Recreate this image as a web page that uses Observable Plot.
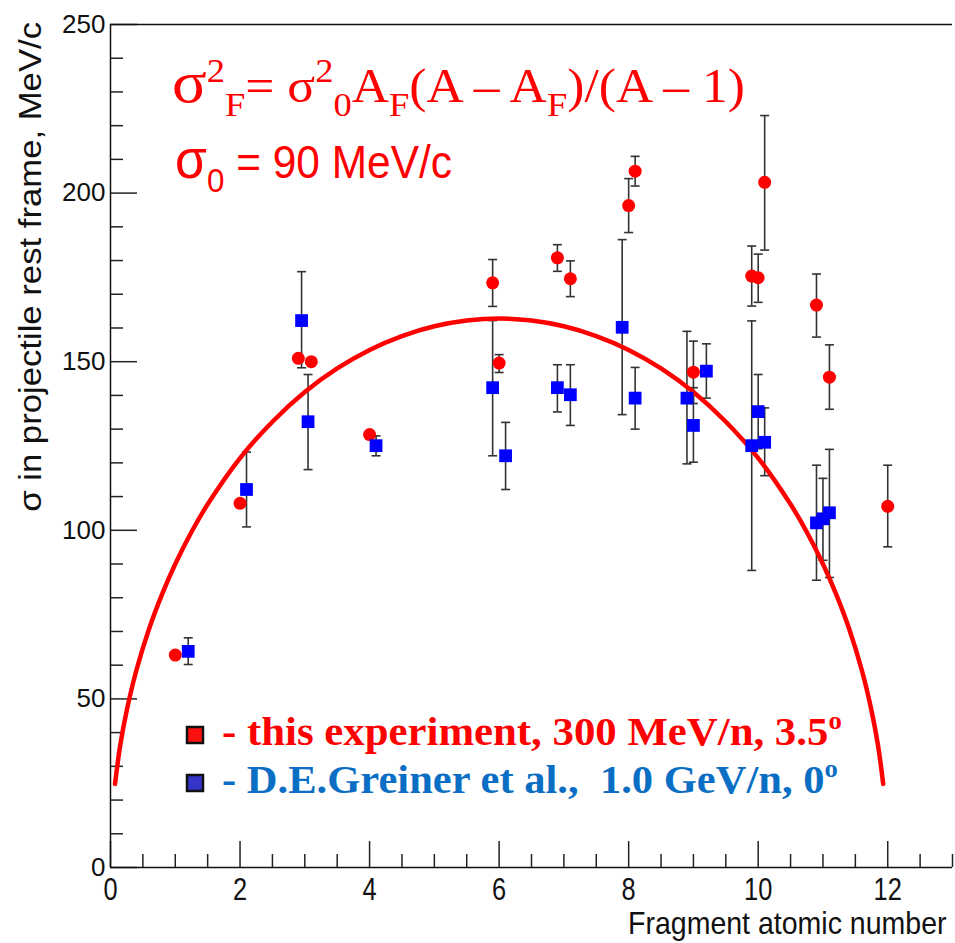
<!DOCTYPE html>
<html><head><meta charset="utf-8">
<script src="https://cdn.jsdelivr.net/npm/d3@7"></script>
<script src="https://cdn.jsdelivr.net/npm/@observablehq/plot@0.6"></script>
<style>body{margin:0;background:#fff;overflow:hidden}</style>
</head><body><div id="chart"></div>
<script>
// ---- data: this experiment (red circles) ----
const redX  = [1.0, 2.0, 2.9, 3.1, 4.0, 5.9, 6.0, 6.9, 7.1, 8.0, 8.1, 9.0, 9.9, 10.0, 10.1, 10.9, 11.1, 12.0];
const redY  = [63, 108, 151, 150, 128.4, 173.4, 149.6, 180.8, 174.6, 196.3, 206.5, 146.9, 175.4, 174.9, 203.2, 166.8, 145.4, 107.1];
const redLo = [null, null, null, null, null, 166.4, 146.8, 176.8, 169.3, 188.3, 202.1, 137.6, 166.5, 167.6, 183.1, 157.3, 135.9, 95.1];
const redHi = [null, null, null, null, null, 180.3, 152.1, 184.7, 179.9, 204.3, 210.9, 156.1, 184.3, 181.9, 223.0, 176.0, 155.0, 119.3];

// ---- data: D.E.Greiner et al. (blue squares) ----
const blueX  = [1.2, 2.1, 2.95, 3.05, 4.1, 5.9, 6.1, 6.9, 7.1, 7.9, 8.1, 8.9, 9.0, 9.2, 9.9, 10.0, 10.1, 10.9, 11.0, 11.1];
const blueY  = [64.1, 112.1, 162.2, 132.2, 125.1, 142.3, 122.1, 142.3, 140.2, 160.2, 139.2, 139.2, 131.1, 147.2, 125.1, 135.2, 126.1, 102.2, 103.4, 105.2];
const blueLo = [60.2, 101.0, 148.2, 118.0, 122.1, 122.1, 112.1, 135.1, 131.1, 134.3, 130.0, 119.7, 120.2, 139.2, 88.1, 124.2, 116.2, 85.2, 91.1, 86.0];
const blueHi = [68.1, 123.2, 176.7, 146.2, 128.0, 162.2, 132.0, 149.1, 149.1, 186.2, 148.3, 159.0, 142.3, 155.3, 162.1, 146.2, 136.3, 119.3, 115.4, 124.0];

// ---- fitted curve ----
const curveX = [0.07, 0.15, 0.25, 0.4, 0.6, 0.8, 1, 1.25, 1.5, 2, 2.5, 3, 3.5, 4, 4.5, 5, 5.5, 6, 6.5, 7, 7.5, 8, 8.5, 9, 9.5, 10, 10.5, 10.75, 11, 11.2, 11.4, 11.6, 11.75, 11.85, 11.93];
const curveY = [24.8, 36.2, 46.5, 58.5, 71.0, 81.2, 90.0, 99.5, 107.7, 121.4, 132.2, 141.0, 148.0, 153.5, 157.6, 160.5, 162.2, 162.8, 162.2, 160.5, 157.6, 153.5, 148.0, 141.0, 132.2, 121.4, 107.7, 99.5, 90.0, 81.2, 71.0, 58.5, 46.5, 36.2, 24.8];

// ---- ticks ----
const xMajor = [0, 2, 4, 6, 8, 10, 12];
const xMinor = [0.5, 1, 1.5, 2.5, 3, 3.5, 4.5, 5, 5.5, 6.5, 7, 7.5, 8.5, 9, 9.5, 10.5, 11, 11.5, 12.5, 13];
const yMajor = [0, 50, 100, 150, 200, 250];
const yMinor = [10, 20, 30, 40, 60, 70, 80, 90, 110, 120, 130, 140, 160, 170, 180, 190, 210, 220, 230, 240];

// ---- texts ----
const xLabel = "Fragment atomic number";
const yLabel = "σ in projectile rest frame, MeV/c";
const legendRed = ["- this experiment, 300 MeV/n, 3.5", "o"];
const legendBlue = ["- D.E.Greiner et al.,  1.0 GeV/n, 0", "o"];

const red = redX.map((x, i) => ({x, y: redY[i], lo: redLo[i], hi: redHi[i]}));
const blue = blueX.map((x, i) => ({x, y: blueY[i], lo: blueLo[i], hi: blueHi[i]}));
const errs = [...red, ...blue].filter(d => d.lo != null);
const curve = curveX.map((x, i) => ({x, y: curveY[i]}));

const cap = {draw(ctx) { ctx.moveTo(-4.5, 0); ctx.lineTo(4.5, 0); }};
const sans = "'Liberation Sans', Arial, sans-serif";
const serif = "'Liberation Serif', 'Times New Roman', serif";

const plot = Plot.plot({
  width: 955, height: 943,
  marginLeft: 110, marginRight: 3, marginTop: 24, marginBottom: 76,
  style: {background: "white", color: "black", fontFamily: sans},
  x: {domain: [0, 13]},
  y: {domain: [0, 250]},
  marks: [
    Plot.axisY(yMinor, {tickSize: -13, tickFormat: () => "", label: null, strokeWidth: 1.5, stroke: "#222"}),
    Plot.axisY(yMajor, {tickSize: -27, tickPadding: 32, fontSize: 26, label: null, strokeWidth: 1.5, stroke: "#222", fill: "#111"}),
    Plot.axisX(xMinor, {tickSize: -13, tickFormat: () => "", label: null, strokeWidth: 1.5, stroke: "#222"}),
    Plot.axisX(xMajor, {tickSize: -26, tickPadding: 36, fontSize: 31, label: null, strokeWidth: 1.5, stroke: "#222", fill: "#111"}),
    Plot.ruleX([0], {strokeWidth: 1.5, stroke: "#111"}),
    Plot.ruleY([0, 250], {strokeWidth: 1.5, stroke: "#111"}),
    Plot.ruleX(errs, {x: "x", y1: "lo", y2: "hi", stroke: "#333", strokeWidth: 1.6}),
    Plot.dot(errs, {x: "x", y: "lo", symbol: cap, stroke: "#333", strokeWidth: 1.6}),
    Plot.dot(errs, {x: "x", y: "hi", symbol: cap, stroke: "#333", strokeWidth: 1.6}),
    Plot.line(curve, {x: "x", y: "y", stroke: "#ff0000", strokeWidth: 4.5, curve: "catmull-rom"}),
    Plot.dot(red, {x: "x", y: "y", r: 6.5, fill: "#ff0000", stroke: "none"}),
    Plot.dot(blue, {x: "x", y: "y", r: 7.2, symbol: "square", fill: "#0000ff", stroke: "none"})
  ]
});
document.getElementById("chart").append(plot);

const svg = d3.select(plot);

// narrow the x tick labels like the reference
svg.selectAll('g[aria-label="x-axis tick label"] text').each(function() {
  const t = d3.select(this);
  t.attr("transform", (t.attr("transform") || "") + " scale(0.82,1)");
});

function fit(sel, x, y, target, rot) {
  const w = sel.node().getBBox().width;
  const s = target / w;
  sel.attr("transform", `translate(${x},${y})` + (rot ? ` rotate(${rot})` : "") + ` scale(${s},1)`);
}
function piece(t, txt, size, dy) { const s = t.append("tspan").text(txt).attr("font-size", size); if (dy) s.attr("dy", dy); return s; }

// formula line 1
const f1 = svg.append("text").attr("fill", "#ff0000").attr("font-family", serif).attr("font-size", 48)
  .attr("text-anchor", "start").style("white-space", "pre");
piece(f1, "σ", 60);
piece(f1, "2", 34, -20);
piece(f1, "F", 34, 34);
piece(f1, "= σ", 48, -14);
piece(f1, "2", 34, -20);
piece(f1, "0", 34, 34);
piece(f1, "A", 48, -14);
piece(f1, "F", 34, 14);
piece(f1, "(A – A", 48, -14);
piece(f1, "F", 34, 14);
piece(f1, ")/(A – 1)", 48, -14);
fit(f1, 172, 102, 573);

// formula line 2
const f2 = svg.append("text").attr("fill", "#ff0000").attr("font-family", sans).attr("font-size", 46)
  .attr("text-anchor", "start").style("white-space", "pre");
piece(f2, "σ", 56);
piece(f2, "0", 34, 14);
piece(f2, " = 90 MeV/c", 46, -14);
fit(f2, 175, 178, 277);

// legend
const legend = [
  {y: 735, fill: "#ff1010", color: "#ff0000", txt: legendRed, w: 620},
  {y: 783, fill: "#3535cc", color: "#0a6fc4", txt: legendBlue, w: 616}
];
for (const L of legend) {
  svg.append("rect").attr("x", 187).attr("y", L.y - 8).attr("width", 16).attr("height", 16)
    .attr("fill", L.fill).attr("stroke", "#111").attr("stroke-width", 2.5);
  const t = svg.append("text").attr("fill", L.color).attr("font-family", serif)
    .attr("font-weight", "bold").attr("font-size", 40).attr("text-anchor", "start").style("white-space", "pre");
  piece(t, L.txt[0], 40);
  piece(t, L.txt[1], 25, -16);
  fit(t, 222, L.y + 10, L.w);
}

// axis titles
const xl = svg.append("text").attr("font-family", sans).attr("font-size", 32).attr("fill", "#111")
  .attr("text-anchor", "start").text(xLabel);
fit(xl, 628, 934, 319);
const yl = svg.append("text").attr("font-family", sans).attr("font-size", 31).attr("fill", "#111")
  .attr("text-anchor", "end").text(yLabel);
fit(yl, 41, 22, 490, -90);
</script>
</body></html>
